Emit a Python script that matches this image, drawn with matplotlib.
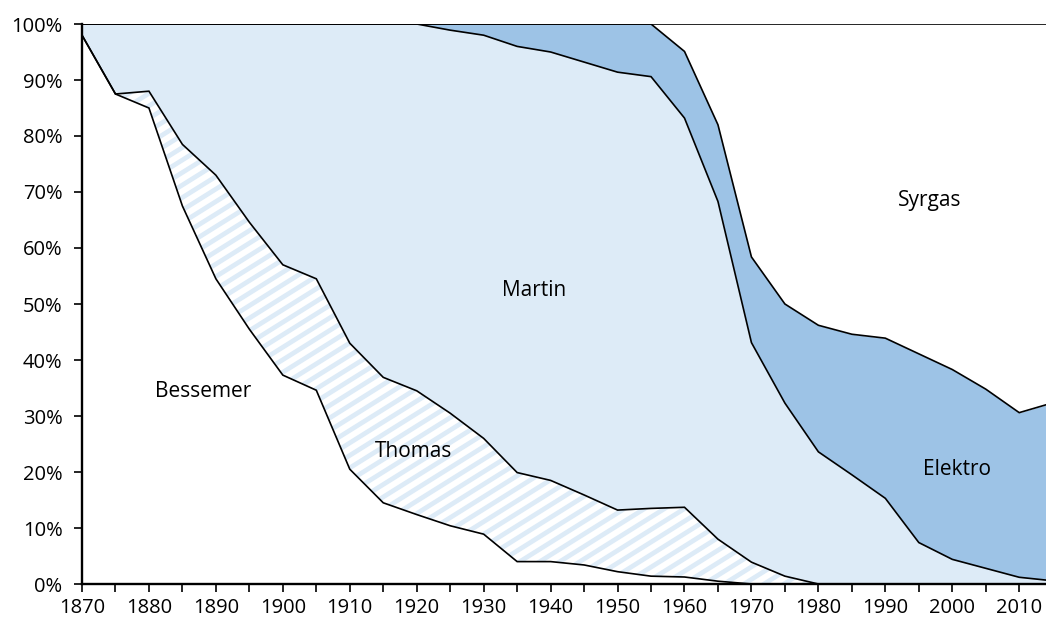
import numpy as np
import matplotlib
matplotlib.use("Agg")
import matplotlib.pyplot as plt
from matplotlib.ticker import MultipleLocator, PercentFormatter
from matplotlib.transforms import IdentityTransform

plt.rcParams['font.family'] = ['Open Sans', 'DejaVu Sans']

years = [1870, 1875, 1880, 1885, 1890, 1895, 1900, 1905, 1910, 1915, 1920,
         1925, 1930, 1935, 1940, 1945, 1950, 1955, 1960, 1965, 1970, 1975,
         1980, 1985, 1990, 1995, 2000, 2005, 2010, 2014]

# cumulative boundaries (percent)
bessemer_top = [98, 87.5, 85, 67.5, 54.5, 45.5, 37.3, 34.6, 20.5, 14.5, 12.4,
                10.4, 8.9, 4.0, 4.0, 3.4, 2.2, 1.4, 1.25, 0.5, 0, 0,
                0, 0, 0, 0, 0, 0, 0, 0]
thomas_top = [98, 87.5, 88, 78.5, 73, 64.6, 57, 54.5, 43, 36.9, 34.5,
              30.5, 26, 19.9, 18.5, 15.9, 13.2, 13.5, 13.7, 8.0, 3.9, 1.4,
              0, 0, 0, 0, 0, 0, 0, 0]
martin_top = [100, 100, 100, 100, 100, 100, 100, 100, 100, 100, 100,
              98.9, 98, 96, 95, 93.2, 91.4, 90.6, 83.2, 68.3, 43.1, 32.3,
              23.6, 19.5, 15.3, 7.4, 4.4, 2.8, 1.2, 0.7]
elektro_top = [100, 100, 100, 100, 100, 100, 100, 100, 100, 100, 100,
               100, 100, 100, 100, 100, 100, 100, 95.1, 82.0, 58.4, 50.0,
               46.2, 44.6, 43.9, 41.1, 38.3, 34.8, 30.6, 32.0]
syrgas_top = [100] * len(years)

labels = ["Bessemer", "Thomas", "Martin", "Elektro", "Syrgas"]
label_pos = [(1888.1, 34.3), (1919.5, 23.6), (1937.5, 52.5), (2000.7, 20.5), (1996.6, 68.4)]

x = np.array(years)
b = np.array(bessemer_top)
t = np.array(thomas_top)
m = np.array(martin_top)
e = np.array(elektro_top)
s = np.array(syrgas_top)

fig = plt.figure(figsize=(10.46, 6.24), dpi=100)
ax = fig.add_axes([82 / 1046, 1 - 584 / 624, 1 - 82 / 1046, (584 - 24) / 624])

ax.fill_between(x, 0, b, color='white', lw=0)
thomas_fill = ax.fill_between(x, b, t, facecolor='white', lw=0)
ax.fill_between(x, t, m, color='#DDEBF7', lw=0)
ax.fill_between(x, m, e, color='#9DC3E6', lw=0)
ax.fill_between(x, e, s, color='white', lw=0)

# diagonal stripe pattern for Thomas, clipped to its area
clip_path = thomas_fill.get_paths()[0]
clip_trans = thomas_fill.get_transform()
for c in range(-1200, 1100, 20):
    stripe, = ax.plot([c, c + 1200], [0, 750], color='#DDEBF7', lw=3.4,
                      transform=IdentityTransform(), solid_capstyle='butt')
    stripe.set_clip_path(clip_path, clip_trans)

for line in [b, t, m, e, s]:
    ax.plot(x, line, color='black', lw=1.2, solid_joinstyle='miter')

for name, (lx, ly) in zip(labels, label_pos):
    ax.text(lx, ly, name, ha='center', va='center', fontsize=15, color='black')

ax.set_xlim(1870, 2014)
ax.set_ylim(0, 100)
ax.xaxis.set_major_locator(MultipleLocator(10))
ax.xaxis.set_minor_locator(MultipleLocator(5))
ax.yaxis.set_major_locator(MultipleLocator(10))
ax.yaxis.set_major_formatter(PercentFormatter(decimals=0))
ax.tick_params(axis='both', which='both', direction='out', length=6, width=1.2,
               labelsize=14.5, colors='black')
ax.tick_params(axis='x', pad=4)
ax.tick_params(axis='y', pad=8)

for side in ['top', 'right']:
    ax.spines[side].set_visible(False)
for side in ['left', 'bottom']:
    ax.spines[side].set_linewidth(1.7)

fig.savefig("out.png", dpi=100)
